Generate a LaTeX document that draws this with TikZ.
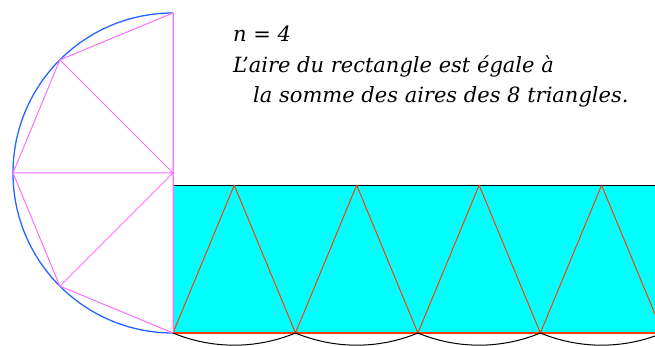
\documentclass[tikz,border=0pt]{standalone}
\usepackage{xcolor}
\usepackage{fontspec}
\setmainfont{DejaVu Serif}
\usetikzlibrary{positioning}
\definecolor{bandfill}{RGB}{0,255,255}
\definecolor{arcblue}{RGB}{40,100,255}
\definecolor{chordpink}{RGB}{255,110,255}
\definecolor{trired}{RGB}{255,60,0}

\begin{document}
\begin{tikzpicture}[x=1pt,y=1pt, line join=round,
  chord/.style={draw=chordpink,line width=1pt},
  tri/.style={draw=trired,line width=1pt},
  unroll/.style={draw=black,line width=1pt},
  txt/.style={anchor=base west,inner sep=0pt,font=\fontsize{21}{25}\selectfont\itshape}]
\useasboundingbox (0,0) rectangle (655,345);
\clip (0,0) rectangle (655,345);
\pgfmathsetmacro{\rad}{160}
\pgfmathsetmacro{\side}{2*\rad*sin(22.5)}
\pgfmathsetmacro{\apo}{\rad*cos(22.5)}
\coordinate (O) at (173,172);
% half circle and its 4 triangles
\foreach \a [count=\k] in {90,135,180,225,270}
  \coordinate (P\k) at ({173+\rad*cos(\a)},{172+\rad*sin(\a)});
\draw[arcblue,line width=1.3pt] (P1) arc[start angle=90,end angle=270,radius=\rad];
\draw[chord] (P1) -- (P2) -- (P3) -- (P4) -- (P5) -- cycle;
\draw[chord] (O) -- (P2) (O) -- (P3) (O) -- (P4);
% the rectangle
\foreach \k in {0,...,4}
  \coordinate (B\k) at ({173+\k*\side},12);
\foreach \k in {0,...,3}
  \coordinate (T\k) at ({173+\k*\side+0.5*\side},{12+\apo});
\fill[bandfill] (B0) rectangle ({173+4*\side},{12+\apo});
\draw[unroll] (173,{12+\apo}) -- ({173+4*\side},{12+\apo});
\draw[tri] (B0) -- (T0) -- (B1) -- (T1) -- (B2) -- (T2) -- (B3) -- (T3) -- (B4);
\draw[tri,line width=1.3pt] (B0) -- (B4);
\draw[chord] (P1) -- (P5);
% arcs unrolled under the base
\foreach \k in {0,...,3}
  \draw[unroll] (B\k) arc[start angle=247.5,end angle=292.5,radius=\rad];
% text
\node[txt] (n) at (233,303) {n = 4};
\node[txt] (l1) at (233,272) {L{\char"0027}aire du rectangle est égale à};
\node[txt] (l2) at (253,242) {la somme des aires des 8 triangles.};
\end{tikzpicture}
\end{document}
